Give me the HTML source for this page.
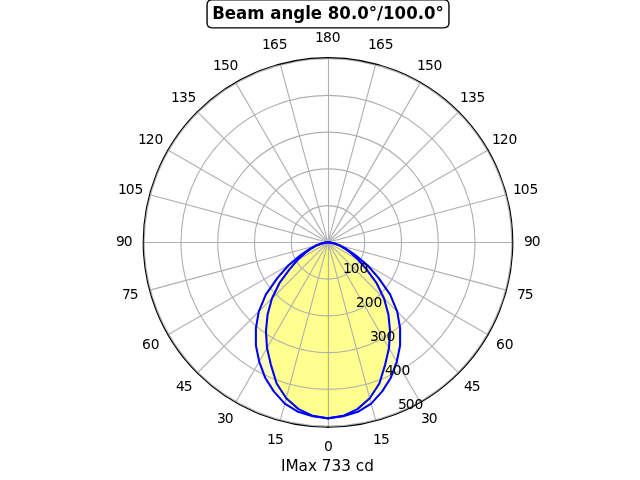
<!DOCTYPE html>
<html lang="en"><head><meta charset="utf-8"><title>Beam angle 80.0°/100.0°</title>
<style>html,body{margin:0;padding:0;background:#fff}svg{display:block}text{font-family:"DejaVu Sans","Liberation Sans",sans-serif;fill:#000}.t{font-size:13.889px;text-anchor:middle}.r{font-size:13.889px;text-anchor:start}</style></head><body>
<svg width="640" height="480" viewBox="0 0 640 480">
<rect width="640" height="480" fill="#fff"/>
<g fill="#ffff00" fill-opacity="0.25" stroke="#ffff00" stroke-opacity="0.25" stroke-width="1.389" stroke-linejoin="miter">
<path d="M328 418.4 L343.22 416.34 L357.87 411.79 L371.2 403.61 L382.21 391.34 L390.97 377.44 L396.8 361.57 L400.1 345.37 L400.12 328.35 L397.23 311.63 L390.2 294.59 L378.3 277.62 L367.23 265.05 L355.28 255.12 L346.61 249.17 L340.65 245.79 L334.99 243.63 L329.99 242.57 L328 242.4 Z"/>
<path d="M328 418.4 L312.78 416.34 L298.13 411.79 L284.8 403.61 L273.79 391.34 L265.03 377.44 L259.2 361.57 L255.9 345.37 L255.88 328.35 L258.77 311.63 L265.8 294.59 L277.7 277.62 L288.77 265.05 L300.72 255.12 L309.39 249.17 L315.35 245.79 L321.01 243.63 L326.01 242.57 L328 242.4 Z"/>
<path d="M328 418.4 L343.17 415.84 L357.4 409.13 L369.77 398.3 L379.37 383.54 L385.1 364.84 L389 348.06 L390.06 331.03 L388.42 314.41 L384.07 298.47 L376.64 283.22 L366.5 269.36 L358.48 260 L351.2 253.22 L344.73 248.49 L339.4 245.45 L334.6 243.56 L329.99 242.57 L328 242.4 Z"/>
<path d="M328 418.4 L312.83 415.84 L298.6 409.13 L286.23 398.3 L276.63 383.54 L270.9 364.84 L267 348.06 L265.94 331.03 L267.58 314.41 L271.93 298.47 L279.36 283.22 L289.5 269.36 L297.52 260 L304.8 253.22 L311.27 248.49 L316.6 245.45 L321.4 243.56 L326.01 242.57 L328 242.4 Z"/>
</g>
<g stroke="#b0b0b0" stroke-width="1.111" fill="none" stroke-linecap="square">
<path d="M328.5 242.4 L328.5 427.2"/>
<path d="M328 242.4 L375.83 420.9"/>
<path d="M328 242.4 L420.4 402.44"/>
<path d="M328 242.4 L458.67 373.07"/>
<path d="M328 242.4 L488.04 334.8"/>
<path d="M328 242.4 L506.5 290.23"/>
<path d="M328 242.5 L512.8 242.5"/>
<path d="M328 242.4 L506.5 194.57"/>
<path d="M328 242.4 L488.04 150"/>
<path d="M328 242.4 L458.67 111.73"/>
<path d="M328 242.4 L420.4 82.36"/>
<path d="M328 242.4 L375.83 63.9"/>
<path d="M328.5 242.4 L328.5 57.6"/>
<path d="M328 242.4 L280.17 63.9"/>
<path d="M328 242.4 L235.6 82.36"/>
<path d="M328 242.4 L197.33 111.73"/>
<path d="M328 242.4 L167.96 150"/>
<path d="M328 242.4 L149.5 194.57"/>
<path d="M328 242.5 L143.2 242.5"/>
<path d="M328 242.4 L149.5 290.23"/>
<path d="M328 242.4 L167.96 334.8"/>
<path d="M328 242.4 L197.33 373.07"/>
<path d="M328 242.4 L235.6 402.44"/>
<path d="M328 242.4 L280.17 420.9"/>
<circle cx="328" cy="242.4" r="36.75"/>
<circle cx="328" cy="242.4" r="73.5"/>
<circle cx="328" cy="242.4" r="110.25"/>
<circle cx="328" cy="242.4" r="147"/>
<circle cx="328" cy="242.4" r="183.75"/>
</g>
<g fill="none" stroke="#0000ff" stroke-width="2.083" stroke-linejoin="round" stroke-linecap="square">
<path d="M328 418.4 L343.22 416.34 L357.87 411.79 L371.2 403.61 L382.21 391.34 L390.97 377.44 L396.8 361.57 L400.1 345.37 L400.12 328.35 L397.23 311.63 L390.2 294.59 L378.3 277.62 L367.23 265.05 L355.28 255.12 L346.61 249.17 L340.65 245.79 L334.99 243.63 L329.99 242.57 L328 242.4 L328 242.4 L326.01 242.57 L321.01 243.63 L315.35 245.79 L309.39 249.17 L300.72 255.12 L288.77 265.05 L277.7 277.62 L265.8 294.59 L258.77 311.63 L255.88 328.35 L255.9 345.37 L259.2 361.57 L265.03 377.44 L273.79 391.34 L284.8 403.61 L298.13 411.79 L312.78 416.34 L328 418.4"/>
<path d="M328 418.4 L343.17 415.84 L357.4 409.13 L369.77 398.3 L379.37 383.54 L385.1 364.84 L389 348.06 L390.06 331.03 L388.42 314.41 L384.07 298.47 L376.64 283.22 L366.5 269.36 L358.48 260 L351.2 253.22 L344.73 248.49 L339.4 245.45 L334.6 243.56 L329.99 242.57 L328 242.4 L328 242.4 L326.01 242.57 L321.4 243.56 L316.6 245.45 L311.27 248.49 L304.8 253.22 L297.52 260 L289.5 269.36 L279.36 283.22 L271.93 298.47 L267.58 314.41 L265.94 331.03 L267 348.06 L270.9 364.84 L276.63 383.54 L286.23 398.3 L298.6 409.13 L312.83 415.84 L328 418.4"/>
</g>
<circle cx="328" cy="242.4" r="184.8" fill="none" stroke="#000" stroke-width="1.111"/>
<rect x="327" y="426.3" width="2" height="1.7" fill="#000" fill-opacity="0.75"/>
<text class="r" x="323.88" y="451">0</text>
<text class="r" x="373.08 381.11" y="444">15</text>
<text class="r" x="267.1 274.89" y="444">15</text>
<text class="r" x="421.04 428.87" y="423">30</text>
<text class="r" x="217.04 224.63" y="423">30</text>
<text class="r" x="464.04 471.67" y="391">45</text>
<text class="r" x="175.99 183.83" y="391">45</text>
<text class="r" x="496.04 504.63" y="349">60</text>
<text class="r" x="142.03 150.87" y="349">60</text>
<text class="r" x="516.95 524.78" y="299">75</text>
<text class="r" x="122.08 129.72" y="299">75</text>
<text class="r" x="524.11 531.74" y="246">90</text>
<text class="r" x="115.92 123.76" y="246">90</text>
<text class="r" x="512.88 520.82 529.5" y="194">105</text>
<text class="r" x="118.11 125.85 134.58" y="194">105</text>
<text class="r" x="492.03 499.76 508.5" y="144">120</text>
<text class="r" x="138.01 145.75 154.49" y="144">120</text>
<text class="r" x="460.07 468.05 476.54" y="102">135</text>
<text class="r" x="170.92 179.11 187.55" y="102">135</text>
<text class="r" x="417.02 425 433.49" y="70">150</text>
<text class="r" x="213.02 221.01 229.5" y="70">150</text>
<text class="r" x="368.01 375.99 384.73" y="49">165</text>
<text class="r" x="262.08 270.12 278.66" y="49">165</text>
<text class="r" x="315.1 323.03 331.72" y="42">180</text>
<text class="r" x="343.06 350.8 359.54" y="273">100</text>
<text class="r" x="355.88 364.71 373.55" y="307">200</text>
<text class="r" x="369.94 377.63 386.56" y="341">300</text>
<text class="r" x="385 392.74 401.48" y="375">400</text>
<text class="r" x="398.07 405.8 414.54" y="409">500</text>
<text x="327.38" y="471" style="font-size:15.278px;text-anchor:middle">IMax 733 cd</text>
<path d="M212.06 27.82 L443.94 27.82 Q448.94 27.82 448.94 22.82 L448.94 4.82 Q448.94 -0.18 443.94 -0.18 L212.06 -0.18 Q207.06 -0.18 207.06 4.82 L207.06 22.82 Q207.06 27.82 212.06 27.82 Z" fill="#fff" stroke="#000" stroke-width="1.389" stroke-linejoin="miter"/>
<text transform="translate(328 19) scale(0.995 1.1)" x="0" y="0" style="font-size:16.667px;font-weight:700;text-anchor:middle">Beam angle 80.0°/100.0°</text>
</svg></body></html>
